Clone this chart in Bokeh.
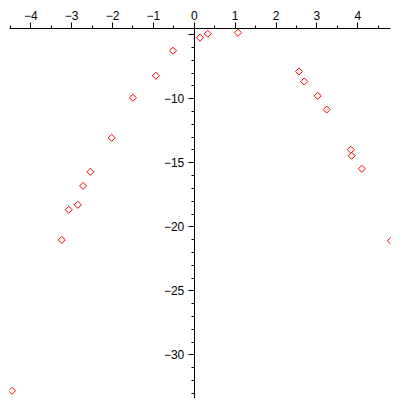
from bokeh.plotting import figure
from bokeh.models import LinearAxis, FixedTicker, Range1d
from bokeh.embed import file_html
from bokeh.resources import INLINE

# data points
x_vals = [0.14, 0.33, 1.07, -0.52, -0.94, -1.50, 2.56, 2.69, 3.02, 3.24,
          -2.02, -2.54, -2.72, -2.85, -3.07, -3.24, 3.83, 3.85, 4.10, 4.81, -4.46]
y_vals = [-5.23, -4.92, -4.84, -6.25, -8.20, -9.92, -7.87, -8.65, -9.77, -10.84,
          -13.05, -15.70, -16.80, -18.28, -18.67, -21.02, -13.98, -14.45, -15.47, -21.09, -32.81]

x_ticks = [-4, -3, -2, -1, 0, 1, 2, 3, 4]
x_labels = ["−4", "−3", "−2", "−1", "0", "1", "2", "3", "4"]
x_minor = [-4.5, -3.5, -2.5, -1.5, -0.5, 0.5, 1.5, 2.5, 3.5, 4.5]
y_ticks = [-5, -10, -15, -20, -25, -30]
y_labels = ["", "−10", "−15", "−20", "−25", "−30"]
y_minor = [v for v in range(-33, -4) if v % 5 != 0]

x_lo, x_hi = -4.52, 4.80
y_lo, y_hi = -33.41, -4.51

p = figure(width=400, height=400, output_backend="svg", toolbar_location=None,
           x_range=Range1d(x_lo, x_hi), y_range=Range1d(y_lo, y_hi),
           x_axis_location=None, y_axis_location=None,
           min_border_left=9, min_border_right=10, min_border_bottom=2, min_border_top=28)
p.outline_line_color = None
p.xgrid.visible = False
p.ygrid.visible = False
p.background_fill_color = "white"
p.border_fill_color = "white"

xa = LinearAxis(ticker=FixedTicker(ticks=x_ticks, minor_ticks=x_minor))
xa.major_label_overrides = {t: l for t, l in zip(x_ticks, x_labels)}
ya = LinearAxis(ticker=FixedTicker(ticks=y_ticks, minor_ticks=y_minor),
                fixed_location=0)
ya.major_label_overrides = {t: l for t, l in zip(y_ticks, y_labels)}

for ax in (xa, ya):
    ax.axis_line_color = "black"
    ax.axis_line_width = 1
    ax.major_tick_line_color = "black"
    ax.minor_tick_line_color = "black"
    ax.major_tick_in = 0
    ax.minor_tick_in = 0
    ax.major_tick_out = 6
    ax.minor_tick_out = 3
    ax.major_label_text_font = "Liberation Sans"
    ax.major_label_text_font_size = "12px"
    ax.major_label_text_color = "black"
xa.major_label_standoff = 3
ya.major_label_standoff = 4

p.add_layout(xa, "above")
p.add_layout(ya, "left")

p.scatter(x_vals, y_vals, marker="square", angle=0.785398, size=5,
          fill_color=None, line_color="#ff0000", line_width=1)

open("out.html", "w").write(file_html(p, INLINE))
